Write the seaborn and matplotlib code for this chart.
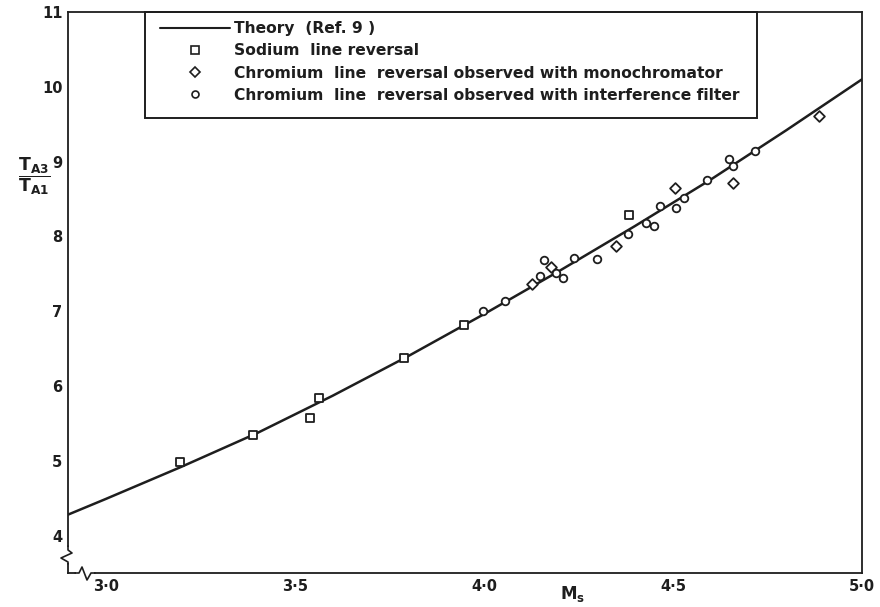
import matplotlib
matplotlib.use("Agg")
import matplotlib.pyplot as plt
from matplotlib.lines import Line2D
from matplotlib.patches import Rectangle
import seaborn as sns
import pandas as pd

# Theory curve (Ref. 9), read at fixed Mach numbers
theory_ms = [2.9, 3.0, 3.2, 3.4, 3.6, 3.8, 4.0, 4.2, 4.4, 4.6, 4.8, 5.0]
theory_ratio = [4.28, 4.49, 4.92, 5.37, 5.87, 6.40, 6.96, 7.54, 8.14, 8.76,
                9.42, 10.10]

# Sodium line reversal
sodium_ms = [3.197, 3.389, 3.539, 3.563, 3.788, 3.947, 4.383]
sodium_ratio = [4.99, 5.34, 5.57, 5.84, 6.37, 6.81, 8.28]

# Chromium line reversal, monochromator
mono_ms = [4.127, 4.178, 4.350, 4.505, 4.658, 4.887]
mono_ratio = [7.36, 7.59, 7.87, 8.65, 8.72, 9.61]

# Chromium line reversal, interference filter
filt_ms = [3.997, 4.057, 4.148, 4.159, 4.191, 4.209, 4.239, 4.300, 4.381,
           4.429, 4.451, 4.467, 4.508, 4.529, 4.590, 4.648, 4.659, 4.718]
filt_ratio = [7.00, 7.14, 7.47, 7.68, 7.51, 7.45, 7.71, 7.70, 8.03,
              8.18, 8.14, 8.40, 8.38, 8.51, 8.75, 9.04, 8.94, 9.14]

x_ticks = [3.0, 3.5, 4.0, 4.5, 5.0]
x_tick_labels = ["3·0", "3·5", "4·0", "4·5", "5·0"]
y_ticks = [4, 5, 6, 7, 8, 9, 10, 11]
y_tick_labels = ["4", "5", "6", "7", "8", "9", "10", "11"]

legend_labels = [
    "Theory  (Ref. 9 )",
    "Sodium  line reversal",
    "Chromium  line  reversal observed with monochromator",
    "Chromium  line  reversal observed with interference filter",
]

sns.set_theme(style="white")
plt.rcParams["font.family"] = ["DejaVu Sans"]
plt.rcParams["mathtext.fontset"] = "dejavusans"

INK = "#1e1e1e"
fig = plt.figure(figsize=(8.8, 6.07), dpi=100)
ax = fig.add_axes([68 / 880, 34 / 607, 794 / 880, 561 / 607])

theory = pd.DataFrame({"Ms": theory_ms, "ratio": theory_ratio})
sns.lineplot(data=theory, x="Ms", y="ratio", ax=ax, color=INK, lw=1.8,
             zorder=2)

common = dict(facecolor="white", edgecolor=INK, linewidth=1.3, zorder=3)
sns.scatterplot(x=sodium_ms, y=sodium_ratio, marker="s", s=36, ax=ax, **common)
sns.scatterplot(x=mono_ms, y=mono_ratio, marker="D", s=30, ax=ax, **common)
sns.scatterplot(x=filt_ms, y=filt_ratio, marker="o", s=30, ax=ax, **common)

ax.set_xlim(2.9, 5.0)
ax.set_ylim(3.5, 11.0)
ax.set_xticks(x_ticks)
ax.set_xticklabels(x_tick_labels)
ax.set_yticks(y_ticks)
ax.set_yticklabels(y_tick_labels)
ax.set_xlabel("")
ax.set_ylabel("")
ax.tick_params(direction="in", length=7, width=1.1, colors=INK,
               labelsize=10.5, pad=4)
for lbl in ax.get_xticklabels() + ax.get_yticklabels():
    lbl.set_fontweight("bold")
for side in ["left", "right", "top", "bottom"]:
    ax.spines[side].set_visible(True)
    ax.spines[side].set_color(INK)
    ax.spines[side].set_linewidth(1.3)

# axis break marks on the left and bottom spines
W, H = 794.0, 561.0
def fx(px):
    return (px - 68) / W
def fy(py):
    return (573 - py) / H
ax.plot([fx(68), fx(68)], [fy(547), fy(563)], color="white", lw=4,
        transform=ax.transAxes, clip_on=False, zorder=5,
        solid_capstyle="butt")
ax.plot([fx(68), fx(68), fx(72), fx(61), fx(68), fx(68)],
        [fy(546), fy(550), fy(553), fy(558), fy(562), fy(564)],
        color=INK, lw=1.2, transform=ax.transAxes, clip_on=False, zorder=6)
ax.plot([fx(76), fx(94)], [fy(573), fy(573)], color="white", lw=4,
        transform=ax.transAxes, clip_on=False, zorder=5,
        solid_capstyle="butt")
ax.plot([fx(75), fx(79), fx(82), fx(87), fx(91), fx(95)],
        [fy(573), fy(573), fy(567), fy(580), fy(573), fy(573)],
        color=INK, lw=1.2, transform=ax.transAxes, clip_on=False, zorder=6)

handles = [
    Line2D([], [], color=INK, lw=1.5),
    Line2D([], [], ls="none", marker="s", ms=5.5, mfc="white", mec=INK, mew=1.2),
    Line2D([], [], ls="none", marker="D", ms=4.8, mfc="white", mec=INK, mew=1.2),
    Line2D([], [], ls="none", marker="o", ms=5.0, mfc="white", mec=INK, mew=1.2),
]
leg = ax.legend(handles, legend_labels, loc="upper left",
                bbox_to_anchor=(fx(153), fy(14)),
                borderaxespad=0, frameon=False,
                handlelength=4.5, handletextpad=0.25, borderpad=0.45,
                labelspacing=0.47, prop={"size": 11.2, "weight": "bold"})
for t in leg.get_texts():
    t.set_color(INK)
ax.add_patch(Rectangle((fx(145), fy(118)), fx(757) - fx(145),
                       fy(12) - fy(118), transform=ax.transAxes,
                       fill=False, edgecolor=INK, lw=1.4, zorder=4,
                       clip_on=False))

# axis titles
fig.text(34 / 880, 1 - 176 / 607,
         r"$\dfrac{\mathbf{T}_{\mathbf{A3}}}{\mathbf{T}_{\mathbf{A1}}}$",
         ha="center", va="center", fontsize=12.5, color=INK)
fig.text(573 / 880, 1 - 594 / 607, r"$\mathbf{M}_{\mathbf{s}}$",
         ha="center", va="center", fontsize=12, color=INK)

fig.savefig("out.png", dpi=100, facecolor="white")
